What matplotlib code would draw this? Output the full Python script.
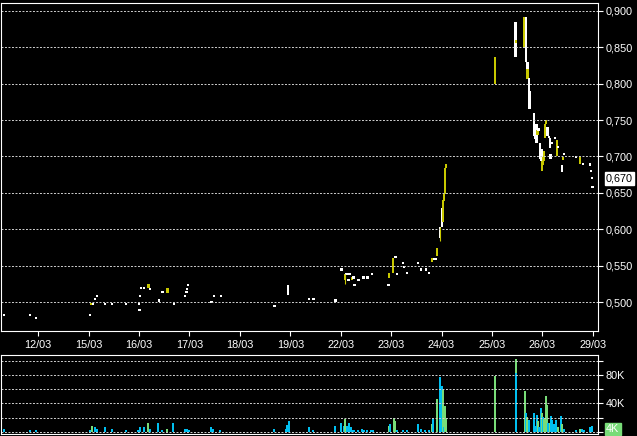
import matplotlib
matplotlib.use("Agg")
import matplotlib.pyplot as plt

# ---- intraday candles (time in trading days, 12/03 = 0) ----
cand_t = [-0.685, -0.164, -0.046, 1.024, 1.057, 1.083, 1.129, 1.168, 1.321, 1.459,
          1.737, 2.000, 2.008, 2.014, 2.034, 2.093, 2.186, 2.218, 2.390, 2.463,
          2.562, 2.687, 2.905, 2.939, 2.950, 2.970, 3.434, 3.479, 3.618, 4.687,
          4.954, 5.366, 5.459, 5.895, 6.014, 6.087, 6.113, 6.152, 6.172, 6.226,
          6.251, 6.271, 6.350, 6.436, 6.463, 6.529, 6.614, 6.950, 6.964, 7.044,
          7.089, 7.123, 7.242, 7.261, 7.321, 7.529, 7.598, 7.697, 7.756, 7.810,
          7.855, 7.880, 7.915, 7.974, 8.004, 8.028, 8.048, 8.067, 8.093, 9.057,
          9.466, 9.470, 9.644, 9.677, 9.703, 9.705, 9.731, 9.747, 9.830, 9.861,
          9.881, 9.905, 9.925, 9.960, 9.985, 9.990, 10.014, 10.034, 10.053, 10.079,
          10.099, 10.130, 10.152, 10.160, 10.198, 10.251, 10.291, 10.317, 10.384, 10.410,
          10.430, 10.661, 10.749, 10.806, 10.945, 10.964, 10.984, 10.994]
cand_o = [0.483, 0.483, 0.478, 0.483, 0.496, 0.497, 0.504, 0.509, 0.498, 0.498,
          0.498, 0.498, 0.490, 0.509, 0.519, 0.519, 0.519, 0.518, 0.505, 0.514,
          0.513, 0.498, 0.508, 0.514, 0.518, 0.524, 0.500, 0.509, 0.509, 0.495,
          0.524, 0.505, 0.505, 0.505, 0.545, 0.530, 0.539, 0.530, 0.539, 0.530,
          0.534, 0.524, 0.530, 0.534, 0.534, 0.534, 0.539, 0.524, 0.534, 0.540,
          0.562, 0.539, 0.554, 0.549, 0.540, 0.554, 0.545, 0.545, 0.540, 0.555,
          0.560, 0.560, 0.564, 0.603, 0.630, 0.610, 0.639, 0.649, 0.684, 0.800,
          0.885, 0.855, 0.849, 0.891, 0.829, 0.806, 0.808, 0.790, 0.760, 0.730,
          0.745, 0.730, 0.737, 0.719, 0.710, 0.680, 0.688, 0.694, 0.726, 0.745,
          0.740, 0.727, 0.726, 0.704, 0.719, 0.725, 0.700, 0.713, 0.689, 0.695,
          0.704, 0.699, 0.690, 0.690, 0.689, 0.680, 0.670, 0.658]
cand_c = [0.483, 0.483, 0.478, 0.483, 0.498, 0.497, 0.504, 0.509, 0.498, 0.498,
          0.498, 0.498, 0.490, 0.509, 0.519, 0.519, 0.525, 0.518, 0.500, 0.514,
          0.519, 0.498, 0.508, 0.514, 0.518, 0.524, 0.500, 0.509, 0.509, 0.495,
          0.510, 0.505, 0.505, 0.500, 0.545, 0.539, 0.539, 0.530, 0.539, 0.535,
          0.534, 0.524, 0.530, 0.534, 0.534, 0.534, 0.539, 0.524, 0.540, 0.561,
          0.562, 0.539, 0.554, 0.549, 0.540, 0.554, 0.545, 0.545, 0.540, 0.561,
          0.560, 0.560, 0.574, 0.588, 0.603, 0.640, 0.649, 0.684, 0.690, 0.836,
          0.836, 0.860, 0.891, 0.829, 0.808, 0.820, 0.790, 0.765, 0.728, 0.724,
          0.719, 0.737, 0.737, 0.696, 0.694, 0.694, 0.699, 0.708, 0.745, 0.750,
          0.728, 0.727, 0.711, 0.697, 0.719, 0.725, 0.722, 0.713, 0.679, 0.699,
          0.704, 0.699, 0.699, 0.690, 0.689, 0.680, 0.670, 0.658]
# only the candles with a visible wick
wick_t = [6.087, 7.974]
wick_lo = [0.525, 0.584]
wick_hi = [0.539, 0.603]

last_price = 0.670

# ---- volume (thousands) ----
vol_t = [-0.685, -0.164, -0.051, 1.024, 1.057, 1.123, 1.168, 1.321, 1.459, 1.737,
         1.988, 2.028, 2.093, 2.186, 2.226, 2.384, 2.463, 2.562, 2.681, 2.905,
         2.945, 2.984, 3.420, 3.465, 3.612, 4.681, 4.905, 4.939, 4.966, 5.366,
         5.453, 5.895, 6.014, 6.067, 6.087, 6.133, 6.172, 6.206, 6.238, 6.271,
         6.345, 6.416, 6.455, 6.529, 6.602, 6.634, 6.958, 6.984, 7.050, 7.077,
         7.117, 7.236, 7.307, 7.533, 7.592, 7.677, 7.756, 7.810, 7.836, 7.909,
         7.968, 8.000, 8.034, 8.040, 8.059, 8.093, 9.057, 9.473, 9.473, 9.653,
         9.673, 9.703, 9.737, 9.836, 9.855, 9.895, 9.915, 9.935, 9.968, 9.988,
         10.014, 10.040, 10.073, 10.093, 10.119, 10.147, 10.172, 10.198, 10.232, 10.265,
         10.305, 10.364, 10.396, 10.424, 10.667, 10.741, 10.780, 10.826, 10.939, 10.978]
vol_k = [3.7, 2.3, 1.9, 2.3, 7.9, 6.0, 3.7, 6.5, 3.7, 2.3,
         2.3, 6.5, 6.5, 12, 3.7, 12, 2.3, 3.7, 12, 3.7,
         3.7, 2.3, 6.5, 3.7, 2.3, 3.7, 3.7, 10, 15, 6.5,
         2.3, 7.9, 11.6, 7.9, 17.7, 7.9, 11.6, 6.0, 2.8, 1.9,
         1.9, 3.7, 1.9, 1.9, 1.9, 1.9, 7.9, 10.7, 20, 14.9,
         1.9, 1.9, 1.9, 10.7, 3.7, 1.9, 1.9, 10.7, 20, 45.6,
         77, 64.6, 59, 7, 35.8, 17.7, 78, 102, 83, 58,
         27, 21, 17, 27, 8.4, 24, 15, 7, 34, 27,
         21, 18.6, 50, 37, 12.6, 11.6, 21.9, 16.7, 10.7, 15.8,
         7, 21.9, 10.7, 3.7, 1.9, 3.7, 3.7, 1.9, 6, 7.9]
# g = up tick (green), c = down / unchanged (cyan)
vol_dir = ("ccccgccccc" "cccgcccgcc" "cccccccccc" "ccccgccccc" "ccccccgcgg"
           "cccccccgcg" "ccgcggggcg" "cgccccgccg" "cgggcgcccc" "gcgccgcccc")
last_vol = "4K"

day_labels = ["12/03", "15/03", "16/03", "17/03", "18/03", "19/03",
              "22/03", "23/03", "24/03", "25/03", "26/03", "29/03"]
price_ticks = [0.500, 0.550, 0.600, 0.650, 0.700, 0.750, 0.800, 0.850, 0.900]
vol_ticks = [0, 20, 40, 60, 80, 100]
vol_labels = {80: "80K", 40: "40K"}

# ---- style ----
YELLOW = "#c8c800"
WHITE = "#ffffff"
CYAN = "#00bff0"
GREEN = "#78dc78"
GRID = "#d0d0d0"
plt.rcParams["font.family"] = ["Liberation Sans", "DejaVu Sans"]
FS = 7.8

fig = plt.figure(figsize=(6.37, 4.36), dpi=100, facecolor="black")
ax = fig.add_axes([0.00235, 0.2408, 0.9364, 0.7534], facecolor="black")
axv = fig.add_axes([0.00235, 0.0046, 0.9364, 0.1812], facecolor="black")

xmin, xmax = -0.729, 11.103

# price panel
for t, o, c in zip(cand_t, cand_o, cand_c):
    color = YELLOW if c > o else WHITE
    h = abs(c - o)
    if h < 0.0028:
        bottom, h = (o + c) / 2 - 0.0014, 0.0028
    else:
        bottom = min(o, c)
    ax.bar(t, h, bottom=bottom, width=0.045, color=color, linewidth=0, antialiased=False)
ax.vlines(wick_t, wick_lo, wick_hi, colors=YELLOW, linewidth=0.8)

ax.set_xlim(xmin, xmax)
ax.set_ylim(0.4606, 0.9112)
ax.yaxis.tick_right()
ax.set_yticks(price_ticks)
ax.set_yticklabels([("%.3f" % v).replace(".", ",") for v in price_ticks])
ax.set_xticks(range(len(day_labels)))
ax.set_xticklabels(day_labels)
ax.tick_params(colors=WHITE, labelcolor=WHITE, labelsize=FS, length=3.6, width=0.8, pad=2)
ax.tick_params(axis="x", pad=3)
ax.grid(axis="y", color=GRID, linestyle=(0, (2, 1.6)), linewidth=0.7)
for s in ax.spines.values():
    s.set_color(WHITE)
    s.set_linewidth(0.8)
ax.annotate(("%.3f" % last_price).replace(".", ","), xy=(1, last_price),
            xycoords=("axes fraction", "data"), xytext=(5.8, 0), textcoords="offset points",
            ha="left", va="center", fontsize=FS, color="black",
            bbox=dict(boxstyle="square,pad=0.12", fc=WHITE, ec=WHITE))

# volume panel
axv.bar(vol_t, vol_k, width=0.04, color=[GREEN if d == "g" else CYAN for d in vol_dir],
        linewidth=0, antialiased=False)
axv.set_xlim(xmin, xmax)
axv.set_ylim(-3.2, 108)
axv.set_xticks([])
axv.yaxis.tick_right()
axv.set_yticks(vol_ticks)
axv.set_yticklabels([vol_labels.get(v, "") for v in vol_ticks])
axv.tick_params(colors=WHITE, labelcolor=WHITE, labelsize=FS, length=3.6, width=0.8, pad=2)
axv.grid(axis="y", color=GRID, linestyle=(0, (2, 1.6)), linewidth=0.7)
for s in axv.spines.values():
    s.set_color(WHITE)
    s.set_linewidth(0.8)
axv.annotate(last_vol, xy=(1, 4), xycoords=("axes fraction", "data"),
             xytext=(5.8, 0), textcoords="offset points", ha="left", va="center",
             fontsize=FS, color=WHITE,
             bbox=dict(boxstyle="square,pad=0.12", fc=GREEN, ec=GREEN))

fig.savefig("out.png", dpi=100, facecolor="black")
